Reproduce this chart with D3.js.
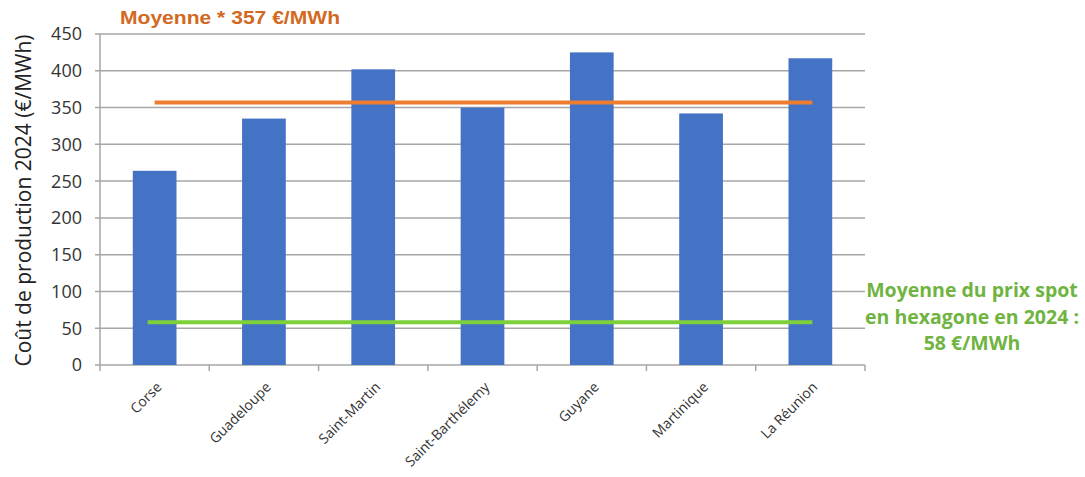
<!DOCTYPE html>
<html>
<head>
<meta charset="utf-8">
<script src="https://cdn.jsdelivr.net/npm/d3@7"></script>
<style>
  html, body { margin: 0; padding: 0; background: #fff; }
  svg { display: block; }
</style>
</head>
<body>
<svg id="chart" width="1085" height="477"></svg>
<script>
// Production cost per territory, 2024 (€/MWh)
const territories = ["Corse", "Guadeloupe", "Saint-Martin", "Saint-Barthélemy", "Guyane", "Martinique", "La Réunion"];
const costs = [264, 335, 402, 350, 425, 342, 417];
const yTicks = [0, 50, 100, 150, 200, 250, 300, 350, 400, 450];
const averageCost = 357;   // mean production cost
const spotPrice = 58;      // mean spot price, mainland France 2024

const svg = d3.select("#chart");
const plotLeft = 100, plotRight = 865, plotTop = 34, plotBottom = 365;

const x = d3.scaleBand().domain(territories).range([plotLeft, plotRight]).paddingInner(0.6).paddingOuter(0.3);
const xEdges = d3.scaleLinear().domain([0, territories.length]).range([plotLeft, plotRight]);
const y = d3.scaleLinear().domain([0, 450]).range([plotBottom, plotTop]);

const grey = "#a6a6a6";

// horizontal gridlines with short outer ticks
svg.append("g").selectAll("line").data(yTicks).join("line")
  .attr("x1", plotLeft - 5).attr("x2", plotRight)
  .attr("y1", d => y(d)).attr("y2", d => y(d))
  .attr("stroke", grey).attr("stroke-width", 1.5);

// vertical axis line
svg.append("line").attr("x1", plotLeft).attr("x2", plotLeft).attr("y1", plotTop).attr("y2", plotBottom)
  .attr("stroke", grey).attr("stroke-width", 1.5);

// category boundary ticks
svg.append("g").selectAll("line").data(d3.range(territories.length + 1)).join("line")
  .attr("x1", d => xEdges(d)).attr("x2", d => xEdges(d))
  .attr("y1", plotBottom).attr("y2", plotBottom + 6)
  .attr("stroke", grey).attr("stroke-width", 1.5);

// y tick labels
svg.append("g").selectAll("text").data(yTicks).join("text")
  .attr("x", plotLeft - 18).attr("y", d => y(d)).attr("dy", "0.36em")
  .attr("text-anchor", "end")
  .attr("font-family", "Open Sans, sans-serif").attr("font-size", 18)
  .attr("fill", "#333").text(d => d);

// y axis title
svg.append("text")
  .attr("transform", `translate(31,${(plotTop + plotBottom) / 2 + 1}) rotate(-90)`)
  .attr("text-anchor", "middle")
  .attr("font-family", "Open Sans, sans-serif").attr("font-size", 21)
  .attr("fill", "#222").text("Coût de production 2024 (€/MWh)");

// bars
svg.append("g").selectAll("rect").data(costs).join("rect")
  .attr("x", (d, i) => x(territories[i]))
  .attr("y", d => y(d))
  .attr("width", x.bandwidth())
  .attr("height", d => y(0) - y(d))
  .attr("fill", "#4472c4");

// category labels, rotated
svg.append("g").selectAll("text").data(territories).join("text")
  .attr("transform", d => `translate(${x(d) + x.bandwidth() / 2 + 8},${plotBottom + 23}) rotate(-45)`)
  .attr("text-anchor", "end")
  .attr("font-family", "Open Sans, sans-serif").attr("font-size", 14)
  .attr("fill", "#333").text(d => d);

// reference lines
const firstCenter = x(territories[0]) + x.bandwidth() / 2;
const lastCenter = x(territories[territories.length - 1]) + x.bandwidth() / 2;
svg.append("line")
  .attr("x1", firstCenter).attr("x2", lastCenter + 2)
  .attr("y1", y(averageCost)).attr("y2", y(averageCost))
  .attr("stroke", "#ed7d31").attr("stroke-width", 4);
svg.append("line")
  .attr("x1", firstCenter - 7).attr("x2", lastCenter + 2)
  .attr("y1", y(spotPrice)).attr("y2", y(spotPrice))
  .attr("stroke", "#7ed03a").attr("stroke-width", 4);

// annotations
svg.append("text")
  .attr("x", 120).attr("y", 24)
  .attr("textLength", 220).attr("lengthAdjust", "spacingAndGlyphs")
  .attr("font-family", "Liberation Sans, Arial, sans-serif").attr("font-weight", "bold").attr("font-size", 18)
  .attr("fill", "#d2691e").text(`Moyenne * ${averageCost} €/MWh`);

const spotLines = ["Moyenne du prix spot", "en hexagone en 2024 :", `${spotPrice} €/MWh`];
svg.append("g").selectAll("text").data(spotLines).join("text")
  .attr("x", 972).attr("y", (d, i) => 297 + i * 26.5)
  .attr("text-anchor", "middle")
  .attr("font-family", "Open Sans, sans-serif").attr("font-weight", "bold").attr("font-size", 19.5)
  .attr("fill", "#6fb43f").text(d => d);
</script>
</body>
</html>
